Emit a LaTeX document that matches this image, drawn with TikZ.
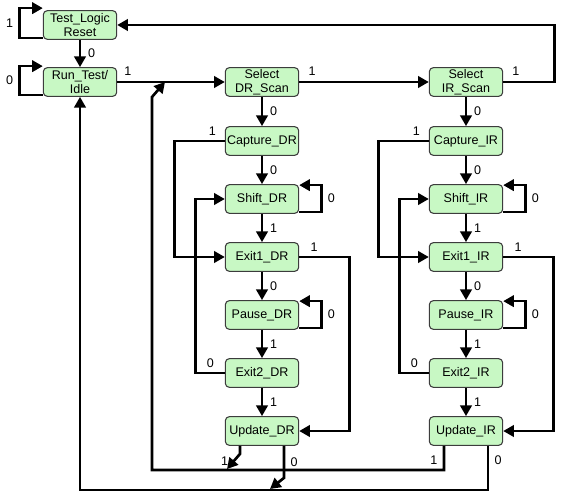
\documentclass[tikz,border=0pt]{standalone}
\usepackage{fontspec}
\setmainfont{Liberation Sans}
\usetikzlibrary{arrows.meta, calc}
\definecolor{stategreen}{HTML}{C8F8C4}
\definecolor{stateedge}{HTML}{3C3C3C}

\begin{document}
\begin{tikzpicture}[x=0.75pt, y=-0.75pt, >={Triangle[length=8pt,width=8.5pt]}, line width=2pt,
  state/.style={draw=stateedge, line width=0.8pt, fill=stategreen, rounded corners=3pt,
    minimum width=55pt, minimum height=21.5pt, inner sep=1pt, align=center,
    font=\fontsize{9.4}{10.5}\selectfont},
  lbl/.style={font=\fontsize{9.4}{10}\selectfont, inner sep=2pt}]
  \useasboundingbox (0,0) rectangle (578,499);
  % estados de arriba
  \node[state] (tlr) at (80,25) {Test\_Logic\\Reset};
  \node[state] (rti) at (80,82) {Run\_Test/\\Idle};
  \node[state] (selDR) at (262,82) {Select\\DR\_Scan};
  \node[state] (selIR) at (466,82) {Select\\IR\_Scan};
  \coordinate (joinDR) at (165,82);
  \coordinate (tapA) at (227,469);
  \coordinate (tapB) at (270,489);
  % lazos propios y camino principal
  \draw[->] ($(tlr.south west)+(0,-2)$) -- ++(-23,0) |- ($(tlr.north west)+(0,-2)$) node[lbl, pos=0.25, left=2pt] {1};
  \draw[->] ($(rti.south west)+(0,-2)$) -- ++(-23,0) |- ($(rti.north west)+(0,-1)$) node[lbl, pos=0.25, left=2pt] {0};
  \draw[->] (tlr) -- (rti) node[lbl, midway, right=3pt] {0};
  \draw[->] (rti) -- (selDR) node[lbl, pos=0.1, above=2pt] {1};
  \draw[->] (selDR) -- (selIR) node[lbl, pos=0.1, above=2pt] {1};
  \draw[->] (selIR.east) -- ++(51,0) node[lbl, pos=0.25, above=2pt] {1} |- (tlr.east);
  % columnas DR e IR
  \foreach \c/\x in {DR/262, IR/466} {
    \node[state] (cap\c) at (\x,141) {Capture\_\c};
    \node[state] (shf\c) at (\x,199) {Shift\_\c};
    \node[state] (exa\c) at (\x,257) {Exit1\_\c};
    \node[state] (pau\c) at (\x,315) {Pause\_\c};
    \node[state] (exb\c) at (\x,373) {Exit2\_\c};
    \node[state] (upd\c) at (\x,431) {Update\_\c};
    \draw[->] (sel\c) -- (cap\c) node[lbl, midway, right=3pt] {0};
    \draw[->] (cap\c) -- (shf\c) node[lbl, midway, right=3pt] {0};
    \draw[->] (shf\c) -- (exa\c) node[lbl, midway, right=3pt] {1};
    \draw[->] (exa\c) -- (pau\c) node[lbl, midway, right=3pt] {0};
    \draw[->] (pau\c) -- (exb\c) node[lbl, midway, right=3pt] {1};
    \draw[->] (exb\c) -- (upd\c) node[lbl, midway, right=3pt] {1};
    \draw[->] ($(shf\c.south east)+(0,-2)$) -- ++(22,0) |- ($(shf\c.north east)+(0,1)$) node[lbl, pos=0.25, right=2pt] {0};
    \draw[->] ($(pau\c.south east)+(0,-2)$) -- ++(22,0) |- ($(pau\c.north east)+(0,1)$) node[lbl, pos=0.25, right=2pt] {0};
    \draw[->] (cap\c.west) -- ++(-50,0) node[lbl, pos=0.25, above=1pt] {1} |- (exa\c.west);
    \draw[->] (exb\c.west) -- ++(-29,0) node[lbl, pos=0.5, above=1pt] {0} |- (shf\c.west);
    \draw[->] (exa\c.east) -- ++(50,0) node[lbl, pos=0.3, above=1pt] {1} |- (upd\c.east);
  }
  % salidas de Update
  \draw[->] ($(updDR.south)+(-22,0)$) -- ++(0,8) -- (tapA) node[lbl, midway, left=1pt] {1};
  \draw[->] ($(updDR.south)+(22,0)$) -- ++(0,32) node[lbl, midway, right=2pt] {0} -- (tapB);
  \draw[->] ($(updIR.south)+(-22,0)$) |- (152,470) node[lbl, pos=0.3, left=2pt] {1} -- (152,97) -- (joinDR);
  \draw[->] ($(updIR.south)+(22,0)$) |- (80,490) node[lbl, pos=0.167, right=2pt] {0} -- (rti.south);
\end{tikzpicture}
\end{document}
